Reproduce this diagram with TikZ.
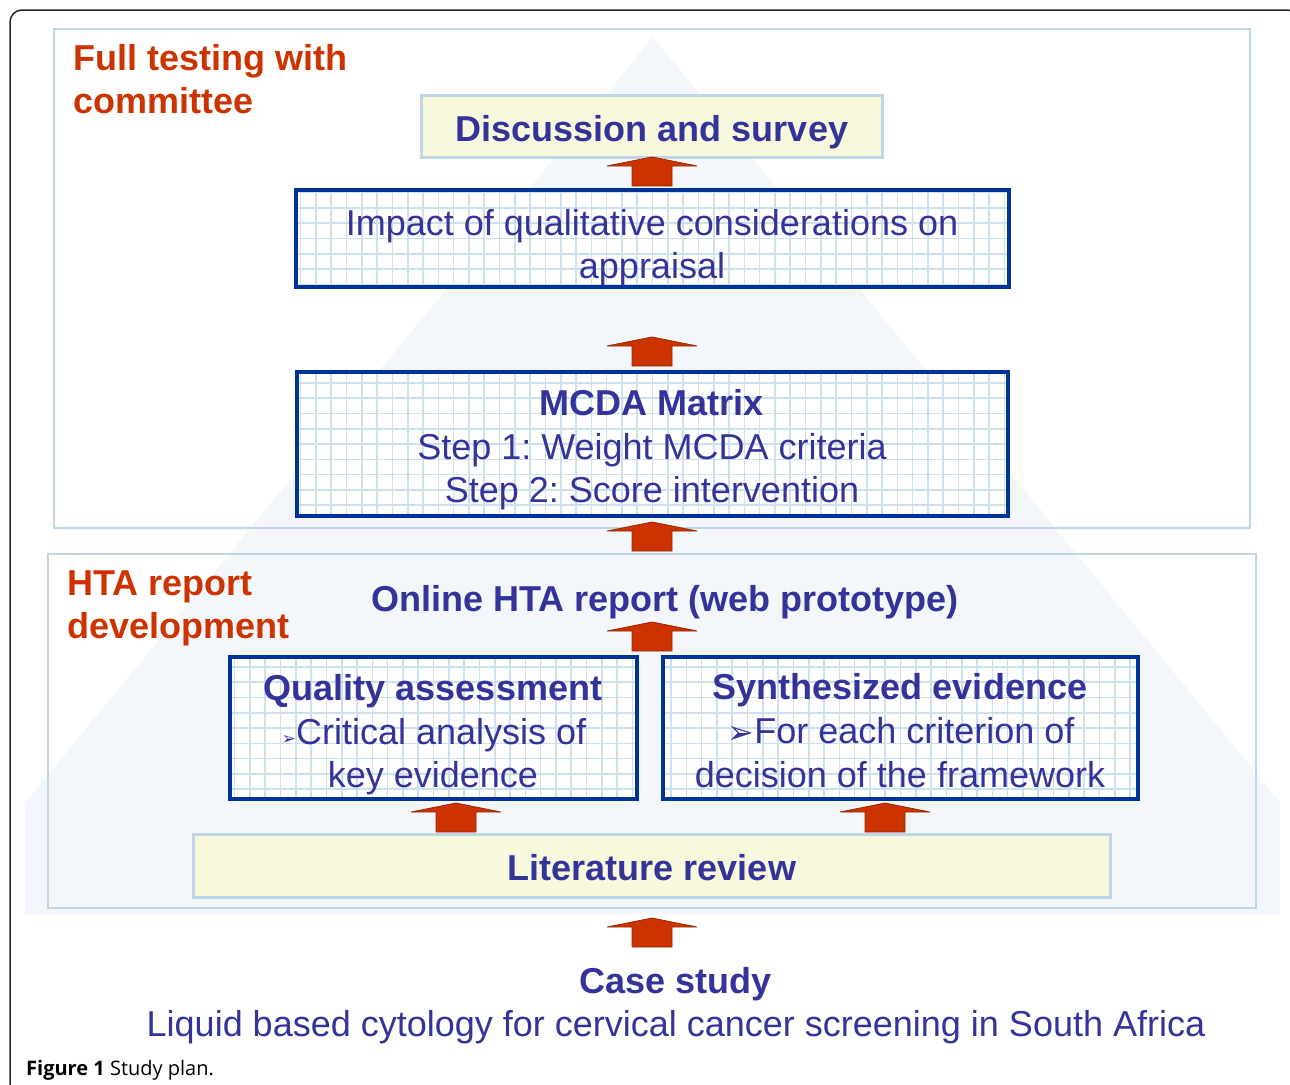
\documentclass[tikz,border=0pt]{standalone}
\usepackage{fontspec}
\setmainfont{Liberation Sans}
\newfontfamily\dejavu{DejaVu Sans}
\newfontfamily\capfont{Open Sans}
\frenchspacing
\definecolor{txtblue}{RGB}{51,51,153}
\definecolor{boxblue}{RGB}{0,51,153}
\definecolor{hdorange}{RGB}{204,51,0}
\definecolor{arrowfill}{RGB}{204,51,0}
\definecolor{arrowline}{RGB}{150,40,0}
\definecolor{panelblue}{RGB}{190,214,230}
\definecolor{gridblue}{RGB}{205,224,238}
\definecolor{paleyellow}{RGB}{248,249,220}
\definecolor{pyramidfill}{RGB}{243,247,251}
\tikzset{
  gridbox/.style={draw=boxblue, line width=4pt, fill=white, inner sep=0pt, rectangle,
    path picture={\draw[gridblue, line width=1.6pt, xstep=15.3pt, ystep=15.3pt]
      (path picture bounding box.south west) grid (path picture bounding box.north east);}},
  ybox/.style={draw=panelblue, line width=3pt, fill=paleyellow, inner sep=0pt, rectangle},
  panel/.style={draw=panelblue, line width=2pt},
  btext/.style={text=txtblue, font=\fontsize{36}{43}\selectfont\bfseries, anchor=base, inner sep=0pt},
  rtext/.style={text=txtblue, font=\fontsize{36}{43}\selectfont, anchor=base, inner sep=0pt},
  otext/.style={text=hdorange, font=\fontsize{36}{43}\selectfont\bfseries, anchor=base west, inner sep=0pt},
  uparrow/.pic={\filldraw[fill=arrowfill, draw=arrowline, line width=0.8pt]
    (0,0) -- (45,9) -- (20,9) -- (20,29) -- (-20,29) -- (-20,9) -- (-45,9) -- cycle;}
}
\begin{document}
\begin{tikzpicture}[x=1pt,y=-1pt]
\useasboundingbox (0,0) rectangle (1290,1084);
\clip (0,0) rectangle (1290,1084);
% pyramid background
\fill[pyramidfill] (653,37) -- (1280,802) -- (1280,915) -- (25,915) -- (25,803) -- cycle;
% outer frame
\draw[line width=1.5pt, black!85, rounded corners=12pt] (10,1110) -- (10,10) -- (1300,10) -- (1300,1110);
% panels
\draw[panel] (54,29) rectangle (1250,528);
\draw[panel] (48,554) rectangle (1256,908);
% panel titles
\node[otext] (t1a) at (73,70) {Full testing with};
\node[otext] (t1b) at (73,113) {committee};
\node[otext] (t2a) at (67,595) {HTA report};
\node[otext] (t2b) at (67,638) {development};
% boxes
\node[ybox, minimum width=461pt, minimum height=62pt] (disc) at (652,126.5) {};
\node[btext] (disct) at (652,141) {Discussion and survey};
\node[gridbox, minimum width=713pt, minimum height=97pt] (impact) at (652.5,238.5) {};
\node[rtext] (impt1) at (652,235) {Impact of qualitative considerations on};
\node[rtext] (impt2) at (652,278) {appraisal};
\node[gridbox, minimum width=711pt, minimum height=144pt] (mcda) at (652.5,444) {};
\node[btext] (mcdat1) at (652,415) {MCDA Matrix};
\node[rtext] (mcdat2) at (652,459) {Step 1: Weight MCDA criteria};
\node[rtext] (mcdat3) at (652,502) {Step 2: Score intervention};
\node[btext] (online) at (665,611) {Online HTA report (web prototype)};
\node[gridbox, minimum width=407pt, minimum height=142pt] (qual) at (433.5,728) {};
\node[btext] (qualt1) at (433,700) {Quality assessment};
\node[rtext] (qualt2) at (434,744) {{\dejavu\fontsize{17}{17}\selectfont ➢}Critical analysis of};
\node[rtext] (qualt3) at (433,787) {key evidence};
\node[gridbox, minimum width=475pt, minimum height=142pt] (synth) at (900.5,728) {};
\node[btext] (synt1) at (900,699) {Synthesized evidence};
\node[rtext] (synt2) at (901,743) {{\dejavu\fontsize{32}{32}\selectfont ➢}For each criterion of};
\node[rtext] (synt3) at (900,787) {decision of the framework};
\node[ybox, minimum width=917pt, minimum height=63pt] (lit) at (652,866) {};
\node[btext] (litt) at (652,880) {Literature review};
\node[btext] (case) at (676,993) {Case study};
\node[rtext] (caset) at (676,1036) {Liquid based cytology for cervical cancer screening in South Africa};
% block arrows
\pic (a1) at (652,157) {uparrow};
\pic (a2) at (652,337) {uparrow};
\pic (a3) at (652,522) {uparrow};
\pic (a4) at (652,622) {uparrow};
\pic (a5) at (456,803) {uparrow};
\pic (a6) at (885,803) {uparrow};
\pic (a7) at (652,918) {uparrow};
% caption
\node[anchor=base west, inner sep=0pt, font=\capfont\fontsize{20}{24}\selectfont] (cap) at (26,1075) {\textbf{Figure 1} Study plan.};
\end{tikzpicture}
\end{document}
